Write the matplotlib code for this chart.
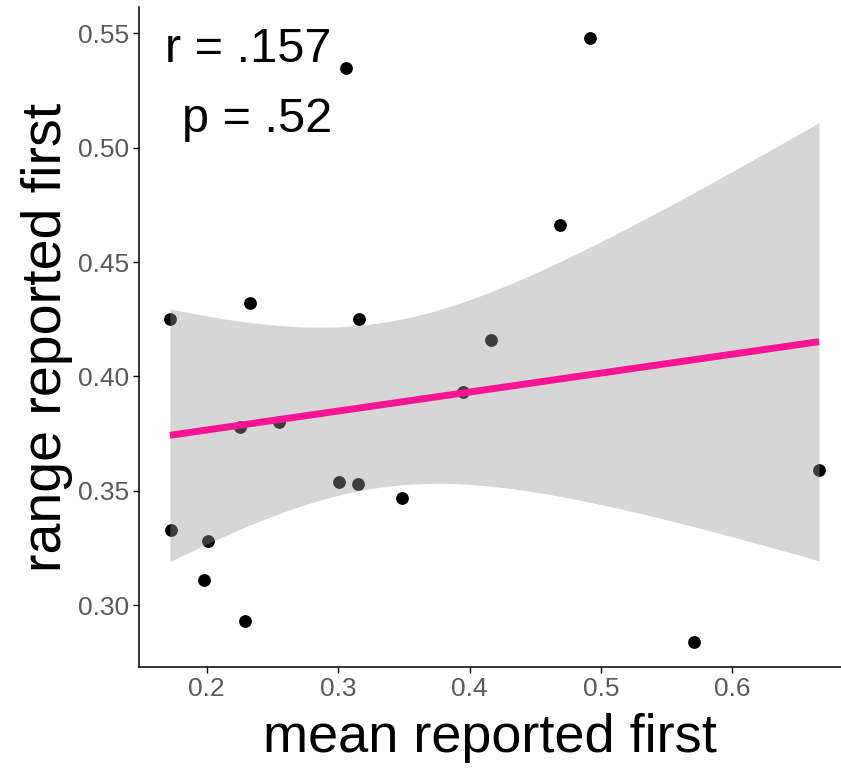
import numpy as np
import matplotlib
matplotlib.use("Agg")
import matplotlib.pyplot as plt

plt.rcParams["font.family"] = ["Liberation Sans", "DejaVu Sans"]

# per-participant proportions (n = 19)
mean_first = [0.172, 0.233, 0.316, 0.416, 0.306, 0.492, 0.469, 0.225, 0.255, 0.395,
              0.173, 0.201, 0.198, 0.229, 0.301, 0.315, 0.349, 0.571, 0.666]
range_first = [0.425, 0.432, 0.425, 0.416, 0.535, 0.548, 0.466, 0.378, 0.380, 0.393,
               0.333, 0.328, 0.311, 0.293, 0.354, 0.353, 0.347, 0.284, 0.359]
r_label = "r = .157"
p_label = "p = .52"
x_ticks = [0.2, 0.3, 0.4, 0.5, 0.6]
y_ticks = [0.30, 0.35, 0.40, 0.45, 0.50, 0.55]

x = np.array(mean_first)
y = np.array(range_first)

# lm fit + 95% confidence band, like geom_smooth(method = "lm")
n = len(x)
slope, intercept = np.polyfit(x, y, 1)
resid = y - (slope * x + intercept)
s = np.sqrt(np.sum(resid ** 2) / (n - 2))
t975 = 2.1098  # t quantile, df = 17
xs = np.linspace(x.min(), x.max(), 200)
fit = slope * xs + intercept
se = s * np.sqrt(1 / n + (xs - x.mean()) ** 2 / np.sum((x - x.mean()) ** 2))

fig = plt.figure(figsize=(8.41, 7.69), dpi=100)
ax = fig.add_axes([0.1653, 0.1326, 0.8347, 0.8583])

ax.scatter(x, y, s=85, color="black", linewidths=0, zorder=2)
ax.fill_between(xs, fit - t975 * se, fit + t975 * se, color="#999999", alpha=0.4,
                linewidth=0, zorder=3)
ax.plot(xs, fit, color="#ff1493", linewidth=5, solid_capstyle="butt", zorder=4)

ax.set_xlim(0.1485, 0.6827)
ax.set_ylim(0.2729, 0.5615)
ax.set_xticks(x_ticks)
ax.set_xticklabels([f"{v:.1f}" for v in x_ticks])
ax.set_yticks(y_ticks)
ax.set_yticklabels([f"{v:.2f}" for v in y_ticks])

for side in ("top", "right"):
    ax.spines[side].set_visible(False)
for side in ("left", "bottom"):
    ax.spines[side].set_linewidth(1.1)
ax.tick_params(length=4, width=1.0, labelsize=19, labelcolor="#5a5a5a", pad=3)

ax.set_xlabel("mean reported first", fontsize=39, labelpad=9)
ax.set_ylabel("range reported first", fontsize=40, labelpad=4)

ax.text(0.037, 0.917, r_label, fontsize=35, transform=ax.transAxes, va="baseline")
ax.text(0.061, 0.811, p_label, fontsize=35, transform=ax.transAxes, va="baseline")

fig.savefig("out.png", dpi=100)
